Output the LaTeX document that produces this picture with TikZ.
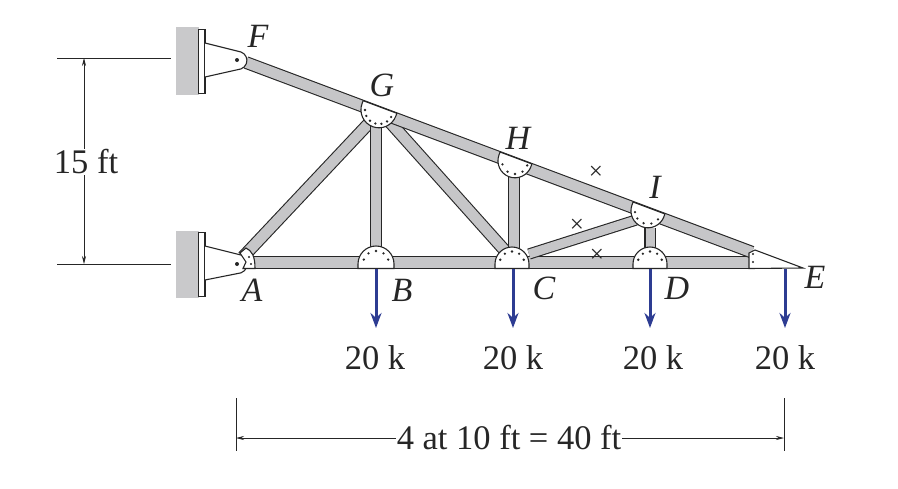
\documentclass[tikz,border=0pt]{standalone}
\usepackage{fontspec}
\setmainfont{Liberation Serif}
\usetikzlibrary{arrows.meta}
\definecolor{ink}{HTML}{262626}
\definecolor{steel}{HTML}{C6C6C8}
\definecolor{wallgray}{HTML}{C9C9CB}
\definecolor{loadblue}{HTML}{2D3C92}
\tikzset{
  bar/.style={draw=ink,line width=1.1pt,double=steel,double distance=#1},
  bar/.default=10.5pt,
  gusset/.style={fill=white,draw=ink,line width=1.1pt},
  wall/.style={fill=wallgray,draw=none},
  plate/.style={fill=white,draw=ink,line width=1pt},
  plateedge/.style={draw=ink,line width=2.2pt},
  bracket/.style={fill=white,draw=ink,line width=1.1pt},
  thin dim/.style={draw=ink,line width=.7pt},
  dimarrow/.style={thin dim,{Stealth[length=8pt,width=4pt]}-{Stealth[length=8pt,width=4pt]}},
  load/.style={draw=loadblue,line width=3pt,-{Stealth[length=15pt,width=11pt]}},
  lab/.style={font=\fontsize{34}{34}\selectfont\itshape,text=ink,inner sep=0pt},
  num/.style={font=\fontsize{34.5}{34.5}\selectfont,text=ink,inner sep=1pt},
  cross/.style={font=\fontsize{25}{25}\selectfont,text=ink,inner sep=0pt}
}
\newcommand{\rivets}[3]{\foreach \a in {#3}{\fill[ink] (#1)++(\a:#2) circle (1.3pt);}}
\newcommand{\topgusset}[2]{\draw[gusset] (#1)++(159.44:#2) -- ++(-110.56:3) arc[start angle=159.44,delta angle=180,radius=#2] -- ++(69.44:3) -- cycle;}
\begin{document}
\begin{tikzpicture}[x=1pt,y=1pt]
\useasboundingbox (0,-488) rectangle (898,0);
% joints
\coordinate (Fp) at (237,-60);
\coordinate (Ap) at (237,-264);
\coordinate (Gt) at (380,-107);
\coordinate (Ht) at (516,-158);
\coordinate (It) at (649,-208);
\coordinate (Gr) at (379,-110);
\coordinate (Hr) at (515,-161);
\coordinate (Ir) at (648,-211);
\coordinate (Fc) at (246,-62.5);
\coordinate (Ec) at (752,-252.2);
\coordinate (Tip) at (803,-268);
\coordinate (Ab) at (250,-262.5);
\coordinate (Eb) at (750,-262.5);
\coordinate (Bd) at (376,-264);
\coordinate (Cd) at (512,-264);
\coordinate (Dd) at (650,-264);
% walls
\fill[wall] (176,-27) rectangle (199,-95);
\fill[wall] (176,-231) rectangle (199,-298);
% members
\draw[bar] (Ab) -- (Eb);
\draw[bar] (243,-257) -- (372,-120);
\draw[bar] (376,-125) -- (376,-250);
\draw[bar] (388,-120) -- (507,-253);
\draw[bar] (514,-175) -- (514,-250);
\draw[bar=9pt] (529,-254) -- (636,-220);
\draw[bar=9pt] (650,-228) -- (650,-250);
\draw[bar] (Fc) -- (Ec);
% wall plates and brackets
\draw[plate] (198,-29) rectangle (205,-93);
\draw[plate] (198,-232) rectangle (205,-296);
\draw[plateedge] (205,-29) -- (205,-93);
\draw[plateedge] (205,-232) -- (205,-296);
\draw[bracket] (205,-43) -- (241,-52) arc[start angle=70,end angle=-70,radius=9] -- (205,-77);
\draw[bracket] (205,-246) -- (241,-255) arc[start angle=70,end angle=-70,radius=9.5] -- (205,-280);
% gussets
\topgusset{Gt}{18}
\topgusset{Ht}{17}
\topgusset{It}{17}
\draw[gusset] (Bd)++(-18,-4.5) -- ++(0,4.5) arc[start angle=180,end angle=0,radius=18] -- ++(0,-4.5) -- cycle;
\draw[gusset] (Cd)++(-17,-4.5) -- ++(0,4.5) arc[start angle=180,end angle=0,radius=17] -- ++(0,-4.5) -- cycle;
\draw[gusset] (Dd)++(-17,-4.5) -- ++(0,4.5) arc[start angle=180,end angle=0,radius=17] -- ++(0,-4.5) -- cycle;
\draw[gusset] (243,-268.5) -- (246,-262) -- (240,-253) -- (246,-248) .. controls (252,-251) and (255,-256) .. (255,-268.5) -- cycle;
\draw[gusset] (749,-268.5) -- (749,-253) -- (755,-250) -- (Tip) -- cycle;
% rivets
\rivets{Gr}{14}{180,205,230,255,280,305,330}
\rivets{Hr}{13}{195,235,270,305,340}
\rivets{Ir}{13}{185,215,250,285,320}
\rivets{Bd}{13}{20,55,90,125,160}
\rivets{Cd}{12.5}{20,55,90,125,160}
\rivets{Dd}{12.5}{20,55,90,125,160}
\fill[ink] (Fp) circle (2pt);
\fill[ink] (Ap) circle (2pt);
\fill[ink] (249,-257) circle (1.2pt) (251,-264) circle (1.2pt);
\fill[ink] (753,-254) circle (1.2pt) (753,-262) circle (1.2pt);
% loads
\coordinate (Bl) at (376,-269);
\coordinate (Cl) at (513,-269);
\coordinate (Dl) at (650,-269);
\coordinate (El) at (785,-269);
\coordinate (Bz) at (376,-328);
\coordinate (Cz) at (513,-328);
\coordinate (Dz) at (650,-328);
\coordinate (Ez) at (785,-328);
\draw[load] (Bl) -- (Bz);
\draw[load] (Cl) -- (Cz);
\draw[load] (Dl) -- (Dz);
\draw[load] (El) -- (Ez);
% labels
\node[lab] (lF) at (258,-36) {F};
\node[lab] (lG) at (382,-85) {G};
\node[lab] (lH) at (518,-138) {H};
\node[lab] (lI) at (655,-187) {I};
\node[lab] (lA) at (252,-290) {A};
\node[lab] (lB) at (402,-290) {B};
\node[lab] (lC) at (544,-288) {C};
\node[lab] (lD) at (677,-288) {D};
\node[lab] (lE) at (815,-277) {E};
\node[num] (l1) at (375,-358) {20 k};
\node[num] (l2) at (513,-358) {20 k};
\node[num] (l3) at (653,-358) {20 k};
\node[num] (l4) at (785,-358) {20 k};
\node[cross] (x1) at (596,-173) {×};
\node[cross] (x2) at (577,-226) {×};
\node[cross] (x3) at (597,-256) {×};
% dimensions
\coordinate (Va) at (84,-58);
\coordinate (Vb) at (84,-264);
\coordinate (Ea) at (57,-58);
\coordinate (Eb2) at (171,-58);
\coordinate (Ec2) at (57,-264);
\coordinate (Ed) at (171,-264);
\draw[thin dim] (Ea) -- (Eb2);
\draw[thin dim] (Ec2) -- (Ed);
\draw[dimarrow] (Va) -- (Vb);
\node[num,fill=white] (h) at (86,-162) {15 ft};
\coordinate (Ha) at (236,-438);
\coordinate (Hb) at (784,-438);
\coordinate (Ta) at (236,-398);
\coordinate (Tb) at (236,-451);
\coordinate (Tc) at (784,-398);
\coordinate (Td) at (784,-451);
\draw[thin dim] (Ta) -- (Tb);
\draw[thin dim] (Tc) -- (Td);
\draw[dimarrow] (Ha) -- (Hb);
\node[num,fill=white] (w) at (509,-438) {4 at 10 ft = 40 ft};
\end{tikzpicture}
\end{document}
